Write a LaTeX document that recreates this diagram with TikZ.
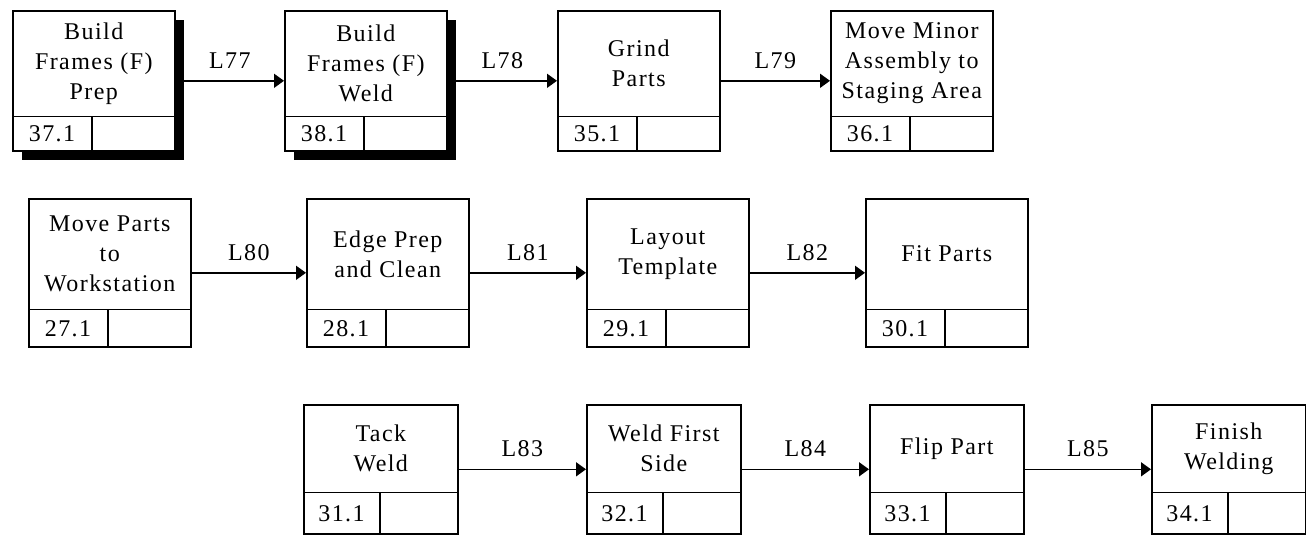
\documentclass[tikz,border=0pt]{standalone}
\usepackage{fontspec}
\setmainfont{Liberation Serif}[LetterSpace=6]
\usepackage{tikz}
\usetikzlibrary{arrows.meta,positioning,calc,shadows}

% box sizes of one row: width, height, bottom cells height, left cell width
\newcommand{\setrow}[4]{\def\boxw{#1}\def\boxh{#2}\def\cellh{#3}\def\cellw{#4}}
% one operation box: [extra], name, top left corner, text, number
\newcommand{\opbox}[5][]{%
  \node[opbody, minimum width=\boxw, minimum height=\boxh, #1] (#2) at (#3) {};
  \draw[boxline] ([yshift=\cellh]#2.south west) -- ([yshift=\cellh]#2.south east);
  \draw[boxline] ([xshift=\cellw]#2.south west) -- ([xshift=\cellw, yshift=\cellh]#2.south west);
  \node[optext] (#2-t) at ($(#2.north)!0.5!([yshift=\cellh]#2.south)$) {#4};
  \node[optext] (#2-n) at ([xshift=0.5*\cellw, yshift=0.5*\cellh]#2.south west) {#5};
}

\begin{document}
\begin{tikzpicture}[x=1pt, y=-1pt,
    boxline/.style={line width=1.6pt},
    opbody/.style={draw, fill=white, line width=1.6pt, inner sep=0pt, anchor=north west},
    optext/.style={align=center, inner sep=0pt, font=\fontsize{24}{30}\selectfont},
    shadowed/.style={drop shadow={shadow xshift=9pt, shadow yshift=-9pt, fill=black, opacity=1}},
    flow/.style={-{Triangle[length=10pt, width=14pt]}, line width=1.6pt},
    lab/.style={midway, above=8pt, font=\fontsize{24}{30}\selectfont}]
    \useasboundingbox (0,0) rectangle (1306,542);

    % First row
    \setrow{162pt}{140pt}{35pt}{80pt}
    \opbox[shadowed]{b37}{12,10}{Build\\Frames (F)\\Prep}{37.1}
    \opbox[shadowed]{b38}{284,10}{Build\\Frames (F)\\Weld}{38.1}
    \opbox{b35}{557,10}{Grind\\Parts}{35.1}
    \opbox{b36}{830,10}{Move Minor\\Assembly to\\Staging Area}{36.1}
    \draw[flow] (b37) -- (b38) node[lab] {L77};
    \draw[flow] (b38) -- (b35) node[lab] {L78};
    \draw[flow] (b35) -- (b36) node[lab] {L79};

    % Second row
    \setrow{162pt}{148pt}{38pt}{80pt}
    \opbox{b27}{28,198}{Move Parts\\to\\Workstation}{27.1}
    \opbox{b28}{306,198}{Edge Prep\\and Clean}{28.1}
    \opbox{b29}{586,198}{Layout\\Template}{29.1}
    \opbox{b30}{865,198}{Fit Parts}{30.1}
    \draw[flow] (b27) -- (b28) node[lab] {L80};
    \draw[flow] (b28) -- (b29) node[lab] {L81};
    \draw[flow] (b29) -- (b30) node[lab] {L82};

    % Third row
    \setrow{154pt}{129pt}{42pt}{77pt}
    \opbox{b31}{303,404}{Tack\\Weld}{31.1}
    \opbox{b32}{586,404}{Weld First\\Side}{32.1}
    \opbox{b33}{869,404}{Flip Part}{33.1}
    \opbox{b34}{1151,404}{Finish\\Welding}{34.1}
    \draw[flow] (b31) -- (b32) node[lab] {L83};
    \draw[flow] (b32) -- (b33) node[lab] {L84};
    \draw[flow] (b33) -- (b34) node[lab] {L85};
\end{tikzpicture}
\end{document}
